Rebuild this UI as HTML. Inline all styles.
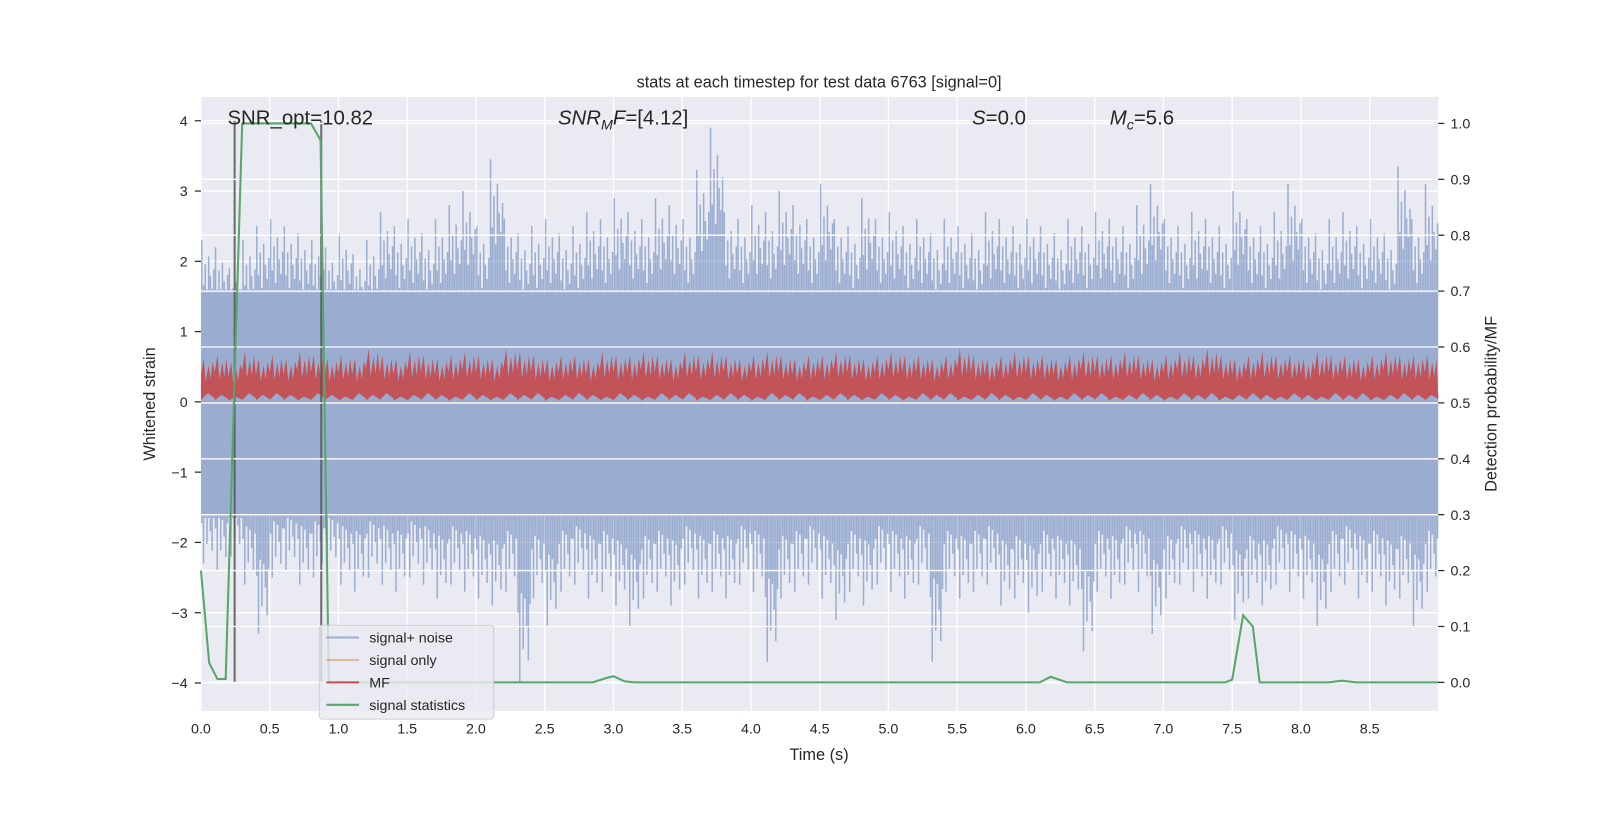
<!DOCTYPE html>
<html><head><meta charset="utf-8"><style>
html,body{margin:0;padding:0;background:#fff;width:1632px;height:816px;overflow:hidden;}
svg{display:block;font-family:"Liberation Sans","DejaVu Sans",sans-serif;}
</style></head><body>
<svg id="chart" width="1632" height="816" viewBox="0 0 1600 800" xmlns="http://www.w3.org/2000/svg">
<rect x="0" y="0" width="1600" height="800" fill="#fff"/>
<rect x="197" y="95" width="1213" height="602" fill="#eaeaf2"/>
<g id="gridL"></g><g id="noise"></g><g id="mf"></g><g id="vlines"></g><g id="gridR"></g><g id="stat"></g><g id="axes"></g>
<text x="803" y="86" font-size="16" text-anchor="middle" fill="#262626">stats at each timestep for test data 6763 [signal=0]</text>
<text x="223" y="122" font-size="20" fill="#262626">SNR_opt=10.82</text>
<text x="547" y="122" font-size="20" fill="#262626"><tspan font-style="italic">SNR</tspan><tspan font-style="italic" font-size="14" dy="5">M</tspan><tspan font-style="italic" dy="-5">F</tspan>=[4.12]</text>
<text x="953" y="122" font-size="20" fill="#262626"><tspan font-style="italic">S</tspan>=0.0</text>
<text x="1088" y="122" font-size="20" fill="#262626"><tspan font-style="italic">M</tspan><tspan font-style="italic" font-size="14" dy="5">c</tspan><tspan dy="-5">=5.6</tspan></text>
<text x="803" y="745" font-size="16" text-anchor="middle" fill="#262626">Time (s)</text>
<text transform="translate(152,396) rotate(-90)" font-size="16" text-anchor="middle" fill="#262626">Whitened strain</text>
<text transform="translate(1467,396) rotate(-90)" font-size="16" text-anchor="middle" fill="#262626">Detection probability/MF</text>
<g>
<rect x="313" y="613" width="171" height="92" rx="3" fill="#eaeaf2" fill-opacity="0.8" stroke="#d0d0d0"/>
<g><line x1="320" y1="625" x2="352" y2="625" stroke="#4c72b0" stroke-opacity="0.5" stroke-width="2"/><text x="362" y="630" font-size="14" fill="#262626">signal+ noise</text></g>
<g><line x1="320" y1="647" x2="352" y2="647" stroke="#dd8452" stroke-opacity="0.5" stroke-width="2"/><text x="362" y="652" font-size="14" fill="#262626">signal only</text></g>
<g><line x1="320" y1="669" x2="352" y2="669" stroke="#c44e52" stroke-width="2"/><text x="362" y="674" font-size="14" fill="#262626">MF</text></g>
<g><line x1="320" y1="691" x2="352" y2="691" stroke="#55a868" stroke-width="2"/><text x="362" y="696" font-size="14" fill="#262626">signal statistics</text></g>
</g>
</svg>
<script>
const noiseHi=[2.3,2.2,1.9,2.3,2.5,2.6,2.5,2.4,2.3,2.2,2.4,2.1,2.3,2.7,2.5,2.6,2.4,2.6,2.8,3.0,2.5,3.45,2.6,2.4,2.5,2.6,2.4,2.5,2.7,2.6,2.9,2.7,2.6,2.9,2.8,2.6,3.3,3.9,2.7,2.6,2.8,2.7,3.0,2.8,2.6,3.1,2.6,2.5,2.9,2.6,2.7,2.5,2.6,2.4,2.6,2.5,2.4,2.7,2.6,2.5,2.6,2.5,2.4,2.6,2.5,2.7,2.6,2.5,2.8,3.1,2.6,2.5,2.7,2.6,2.5,3.0,2.6,2.5,2.7,3.1,2.6,2.4,2.6,2.7,2.5,2.6,2.4,3.35,2.6,3.1];
const noiseLo=[-2.3,-2.4,-2.2,-2.6,-3.3,-2.5,-2.4,-2.6,-2.5,-2.4,-2.6,-2.7,-2.5,-2.6,-2.7,-2.5,-2.6,-2.8,-2.6,-2.7,-2.8,-2.9,-2.7,-4.0,-2.8,-3.2,-2.7,-2.6,-2.8,-2.7,-2.9,-3.2,-2.8,-2.7,-2.9,-2.6,-2.8,-2.7,-2.8,-2.6,-2.7,-3.7,-2.8,-2.7,-2.6,-2.8,-3.1,-2.7,-2.9,-2.6,-2.7,-2.8,-2.6,-3.7,-2.7,-2.8,-2.7,-2.6,-2.9,-2.8,-3.0,-2.7,-2.8,-2.9,-3.55,-2.7,-2.8,-2.6,-2.7,-3.3,-2.8,-2.6,-2.7,-2.8,-2.6,-3.1,-2.8,-2.9,-2.6,-2.7,-2.8,-3.2,-2.7,-2.6,-2.8,-2.7,-2.9,-2.8,-3.2,-2.7];
const mfHi=[0.65,0.7,0.6,0.75,0.65,0.7,0.65,0.75,0.7,0.65,0.7,0.65,0.8,0.7,0.65,0.75,0.7,0.65,0.7,0.75,0.7,0.65,0.8,0.75,0.7,0.65,0.7,0.7,0.65,0.75,0.7,0.7,0.75,0.7,0.65,0.75,0.7,0.75,0.7,0.65,0.7,0.75,0.7,0.65,0.7,0.7,0.75,0.7,0.65,0.7,0.75,0.7,0.7,0.65,0.7,0.8,0.7,0.65,0.7,0.75,0.7,0.7,0.65,0.7,0.75,0.7,0.7,0.75,0.7,0.65,0.7,0.75,0.7,0.8,0.7,0.65,0.7,0.75,0.7,0.7,0.65,0.75,0.7,0.7,0.65,0.7,0.75,0.7,0.7,0.7];
const mfLo=[0.05,0.04,0.03,0.05,0.04,0.05,0.04,0.03,0.05,0.04,0.03,0.05,0.04,0.05,0.03,0.04,0.05,0.04,0.03,0.05,0.04,0.03,0.05,0.04,0.05,0.03,0.04,0.05,0.04,0.03,0.05,0.04,0.03,0.05,0.04,0.05,0.03,0.04,0.05,0.04,0.03,0.05,0.04,0.05,0.03,0.04,0.05,0.04,0.03,0.05,0.04,0.03,0.05,0.04,0.05,0.03,0.04,0.05,0.04,0.03,0.05,0.04,0.03,0.05,0.04,0.05,0.03,0.04,0.05,0.04,0.03,0.05,0.04,0.05,0.03,0.04,0.05,0.04,0.03,0.05,0.04,0.03,0.05,0.04,0.05,0.03,0.04,0.05,0.04,0.04];
const statT=[0,0.06,0.12,0.18,0.3,0.6,0.8,0.87,0.93,1.5,2.85,2.95,3.0,3.08,3.15,6.1,6.18,6.3,7.45,7.5,7.58,7.65,7.7,7.8,8.2,8.3,8.4,9.0];
const statP=[0.2,0.035,0.006,0.006,1.0,1.0,1.0,0.97,0.0,0.0,0.0,0.008,0.011,0.002,0.0,0.0,0.01,0.0,0.0,0.005,0.12,0.1,0.0,0.0,0.0,0.003,0.0,0.0];
const vlineT=[0.245,0.875];
const xTicks=["0.0","0.5","1.0","1.5","2.0","2.5","3.0","3.5","4.0","4.5","5.0","5.5","6.0","6.5","7.0","7.5","8.0","8.5"];
const yLTicks=[-4,-3,-2,-1,0,1,2,3,4];
const yRTicks=["0.0","0.1","0.2","0.3","0.4","0.5","0.6","0.7","0.8","0.9","1.0"];
const NS="http://www.w3.org/2000/svg";
const X=t=>197+t*134.8, YL=v=>394-v*68.9, YR=p=>669-p*548;
function mk(tag,parent,attrs){const e=document.createElementNS(NS,tag);for(const k in attrs)e.setAttribute(k,attrs[k]);document.getElementById(parent).appendChild(e);return e;}
yLTicks.forEach(v=>{const l=mk('line','gridL',{x1:197,x2:1410,y1:YL(v),y2:YL(v),stroke:'#fff','stroke-width':1.3});


const tk=mk('line','axes',{x1:191,x2:197,y1:YL(v),y2:YL(v),stroke:'#262626','stroke-width':1.2});


const t=mk('text','axes',{x:184,y:YL(v)+5,'font-size':14,'text-anchor':'end',fill:'#262626'});


t.textContent=(v<0?'\u2212'+(-v):v);});
xTicks.forEach(s=>{const v=parseFloat(s);const l=mk('line','gridL',{x1:X(v),x2:X(v),y1:95,y2:697,stroke:'#fff','stroke-width':1.3});


const t=mk('text','axes',{x:X(v),y:719,'font-size':14,'text-anchor':'middle',fill:'#262626'});


t.textContent=s;});
const bw=0.1;
const band=mk('rect','noise',{x:197,y:YL(1.55),width:1213,height:YL(-1.6)-YL(1.55),fill:'#9aadd0'});


const fr=[1,0.72,0.85,0.65,0.9,0.78,0.7,0.82];
const fl=[0.75,1,0.68,0.88,0.7,0.8,0.92,0.72];
noiseHi.forEach((h,i)=>{
 const lo=noiseLo[i];
 for(let k=0;k<8;k++){
  const xx=X(i*bw+bw*(k+0.5)/8);
  const u=mk('line','noise',{x1:xx,x2:xx,y1:YL(Math.max(1.6,h*fr[k])),y2:YL(1.55),stroke:'#4c72b0','stroke-opacity':0.5,'stroke-width':1.5});
  
  
  const d=mk('line','noise',{x1:xx,x2:xx,y1:YL(-1.6),y2:YL(Math.min(-1.65,lo*fl[k])),stroke:'#4c72b0','stroke-opacity':0.5,'stroke-width':1.5});
  
  
 }
});
const so=mk('line','mf',{x1:197,x2:1410,y1:YL(0),y2:YL(0),stroke:'#dd8452','stroke-opacity':0.5,'stroke-width':1.5});


let pts=[];mfHi.forEach((h,i)=>{pts.push(X(i*bw)+','+YL(h*0.6));pts.push(X(i*bw+bw*0.2)+','+YL(h*0.95));pts.push(X(i*bw+bw*0.35)+','+YL(h*0.45));pts.push(X(i*bw+bw*0.55)+','+YL(h*0.8));pts.push(X(i*bw+bw*0.7)+','+YL(h*0.5));pts.push(X(i*bw+bw*0.85)+','+YL(h*0.88));});
for(let i=mfLo.length-1;i>=0;i--){pts.push(X(i*bw+bw)+','+YL(mfLo[i]));pts.push(X(i*bw+bw*0.5)+','+YL(mfLo[i]*2.5));pts.push(X(i*bw)+','+YL(mfLo[i]*0.5));}
const mfp=mk('polygon','mf',{points:pts.join(' '),fill:'#c44e52','fill-opacity':0.95});


vlineT.forEach(t=>{const l=mk('line','vlines',{x1:X(t),x2:X(t),y1:YL(4),y2:YL(-4),stroke:'#555','stroke-opacity':0.85,'stroke-width':2});

});
yRTicks.forEach(s=>{const v=parseFloat(s);const l=mk('line','gridR',{x1:197,x2:1410,y1:YR(v),y2:YR(v),stroke:'#fff','stroke-width':1.3});


const tk=mk('line','axes',{x1:1410,x2:1416,y1:YR(v),y2:YR(v),stroke:'#262626','stroke-width':1.2});


const t=mk('text','axes',{x:1422,y:YR(v)+5,'font-size':14,fill:'#262626'});


t.textContent=s;});
const sp=mk('polyline','stat',{points:statT.map((t,i)=>X(t)+','+YR(statP[i])).join(' '),fill:'none',stroke:'#55a868','stroke-width':2});


</script>
</body></html>
